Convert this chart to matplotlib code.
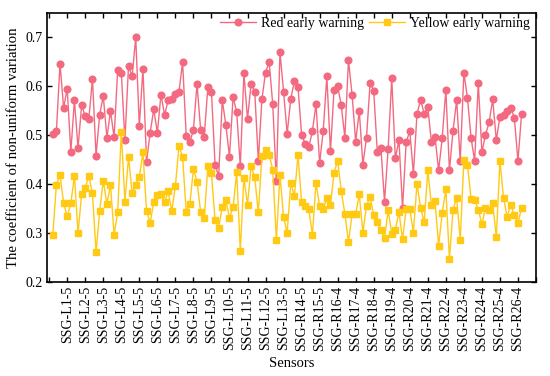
import matplotlib
matplotlib.use("Agg")
import matplotlib.pyplot as plt
import numpy as np

red = [0.503, 0.508, 0.646, 0.556, 0.595, 0.466, 0.571, 0.474, 0.561, 0.539,
       0.534, 0.615, 0.458, 0.542, 0.580, 0.495, 0.549, 0.496, 0.634, 0.628,
       0.490, 0.641, 0.620, 0.700, 0.519, 0.636, 0.446, 0.505, 0.553, 0.505,
       0.583, 0.541, 0.572, 0.573, 0.585, 0.589, 0.649, 0.499, 0.485, 0.511,
       0.605, 0.511, 0.497, 0.598, 0.589, 0.440, 0.416, 0.571, 0.521, 0.456,
       0.578, 0.547, 0.436, 0.627, 0.533, 0.605, 0.589, 0.448, 0.574, 0.628,
       0.650, 0.563, 0.406, 0.670, 0.589, 0.503, 0.574, 0.611, 0.599, 0.501,
       0.482, 0.475, 0.509, 0.563, 0.443, 0.509, 0.620, 0.467, 0.593, 0.601,
       0.561, 0.495, 0.653, 0.583, 0.487, 0.549, 0.440, 0.495, 0.607, 0.591,
       0.465, 0.474, 0.364, 0.472, 0.616, 0.453, 0.490, 0.351, 0.485, 0.509,
       0.421, 0.543, 0.572, 0.544, 0.557, 0.486, 0.497, 0.428, 0.494, 0.593,
       0.428, 0.509, 0.572, 0.447, 0.628, 0.576, 0.494, 0.447, 0.607, 0.465,
       0.501, 0.526, 0.573, 0.490, 0.537, 0.541, 0.549, 0.556, 0.536, 0.447,
       0.543]

yellow = [0.297, 0.399, 0.419, 0.361, 0.334, 0.361, 0.416, 0.300, 0.380, 0.393,
          0.416, 0.381, 0.261, 0.345, 0.407, 0.359, 0.399, 0.297, 0.343, 0.507,
          0.364, 0.455, 0.382, 0.399, 0.415, 0.465, 0.345, 0.321, 0.363, 0.378,
          0.380, 0.363, 0.385, 0.345, 0.396, 0.478, 0.455, 0.344, 0.359, 0.430,
          0.405, 0.343, 0.330, 0.436, 0.422, 0.326, 0.311, 0.353, 0.367, 0.331,
          0.353, 0.424, 0.264, 0.413, 0.358, 0.436, 0.414, 0.342, 0.457, 0.470,
          0.460, 0.429, 0.286, 0.419, 0.332, 0.301, 0.402, 0.376, 0.459, 0.364,
          0.355, 0.349, 0.297, 0.403, 0.355, 0.350, 0.371, 0.357, 0.423, 0.448,
          0.386, 0.339, 0.282, 0.338, 0.339, 0.379, 0.301, 0.356, 0.374, 0.336,
          0.323, 0.306, 0.289, 0.347, 0.299, 0.307, 0.343, 0.287, 0.350, 0.350,
          0.301, 0.401, 0.352, 0.322, 0.428, 0.358, 0.365, 0.274, 0.341, 0.389,
          0.247, 0.348, 0.372, 0.286, 0.449, 0.439, 0.370, 0.368, 0.348, 0.318,
          0.352, 0.347, 0.361, 0.291, 0.447, 0.372, 0.333, 0.358, 0.336, 0.321,
          0.351]

tick_labels = ["SSG-L1-5", "SSG-L2-5", "SSG-L3-5", "SSG-L4-5", "SSG-L5-5",
               "SSG-L6-5", "SSG-L7-5", "SSG-L8-5", "SSG-L9-5", "SSG-L10-5",
               "SSG-L11-5", "SSG-L12-5", "SSG-L13-5", "SSG-R14-5", "SSG-R15-5",
               "SSG-R16-4", "SSG-R17-4", "SSG-R18-4", "SSG-R19-4", "SSG-R20-4",
               "SSG-R21-4", "SSG-R22-4", "SSG-R23-4", "SSG-R24-4", "SSG-R25-4",
               "SSG-R26-4"]

plt.rcParams['font.family'] = ['Liberation Serif', 'DejaVu Serif']
plt.rcParams['font.size'] = 10

fig = plt.figure(figsize=(5.5, 3.76), dpi=100)
ax = fig.add_axes([0.0855, 0.25, 0.889, 0.716])

x = np.arange(1, len(red) + 1)
red_c = '#F36A80'
yel_c = '#FFC914'
ax.plot(x, red, '-o', color=red_c, lw=1.0, ms=4.8, mec=red_c, mfc=red_c,
        label='Red early warning')
ax.plot(x, yellow, '-s', color=yel_c, lw=1.0, ms=3.8, mec=yel_c, mfc=yel_c,
        label='Yellow early warning')

ax.set_xlim(-0.6, 135)
ax.set_ylim(0.2, 0.75)
ticks = np.arange(0, 136, 5)
ax.set_xticks(ticks)
labels = [''] + tick_labels + ['']
ax.set_xticklabels(labels, rotation=90)
ax.set_yticks([0.2, 0.3, 0.4, 0.5, 0.6, 0.7])
ax.set_yticklabels(['0.2', '0.3', '0.4', '0.5', '0.6', '0.7'])
ax.tick_params(direction='in', length=3.5, width=1.0, top=True, right=True,
               labelsize=10, pad=3)
for s in ax.spines.values():
    s.set_linewidth(1.2)

ax.set_xlabel('Sensors', fontsize=10.5, labelpad=4)
ax.set_ylabel('The coefficient of non-uniform variation', fontsize=10.6, labelpad=4)

ax.legend(loc='upper right', ncol=2, frameon=False, fontsize=10,
          bbox_to_anchor=(1.005, 1.015), handlelength=2.6, handletextpad=0.4,
          columnspacing=0.3, borderaxespad=0.2)

fig.savefig('out.png', dpi=100)
